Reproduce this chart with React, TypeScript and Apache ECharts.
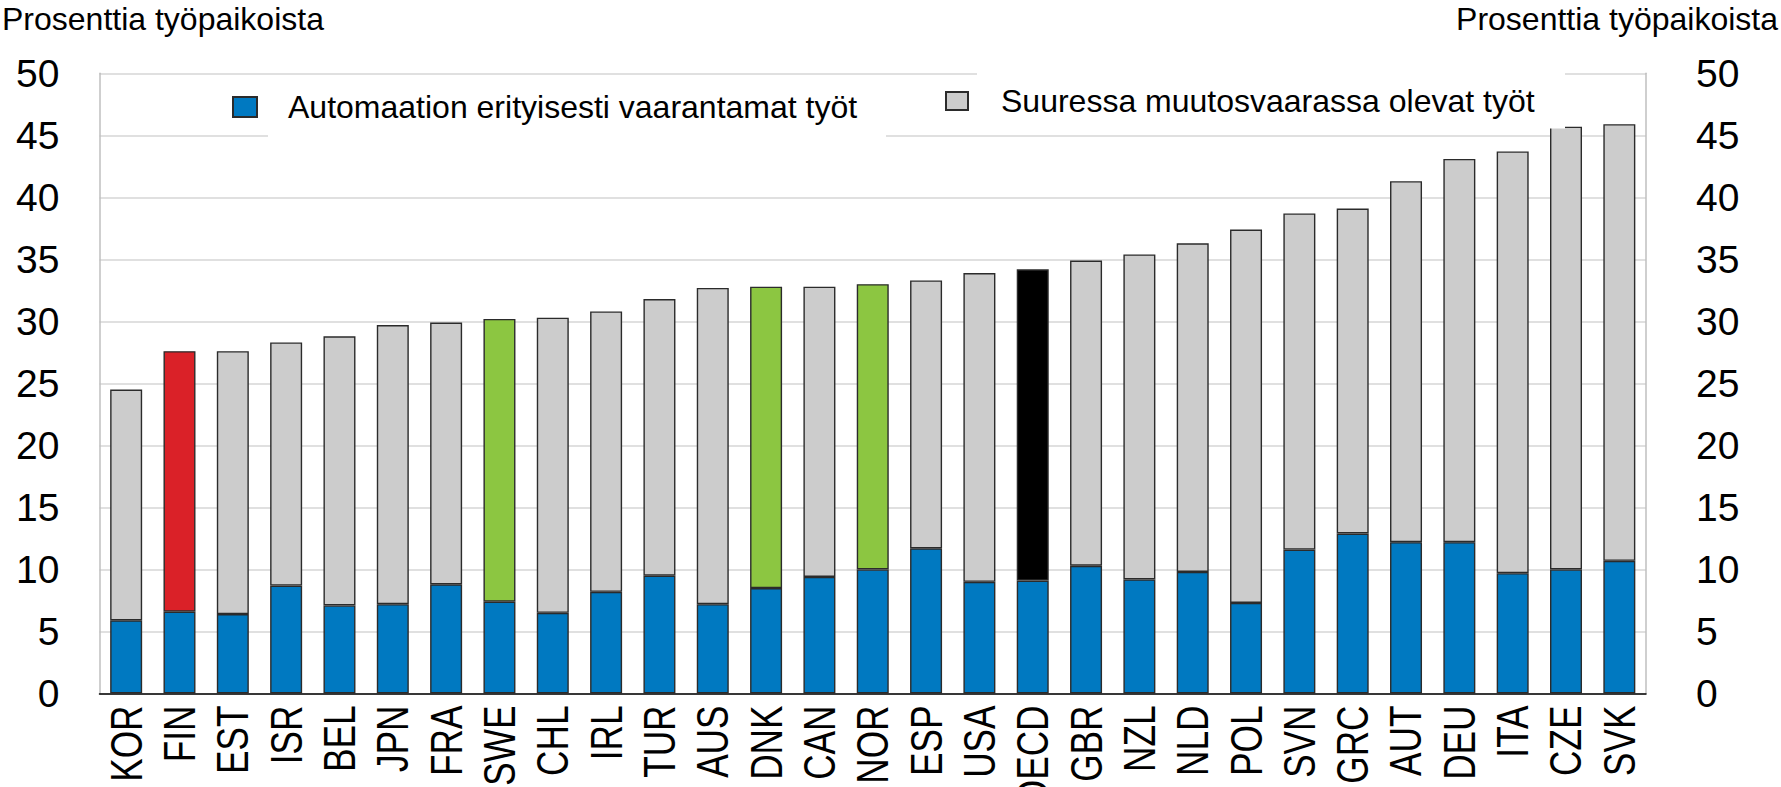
import React, { useEffect, useRef } from "react";
import * as echarts from "echarts";

const categories = ["KOR","FIN","EST","ISR","BEL","JPN","FRA","SWE","CHL","IRL","TUR","AUS","DNK","CAN","NOR","ESP","USA","OECD","GBR","NZL","NLD","POL","SVN","GRC","AUT","DEU","ITA","CZE","SVK"];
const automationRisk = [5.9,6.6,6.4,8.7,7.1,7.2,8.8,7.4,6.5,8.2,9.5,7.2,8.5,9.4,10.0,11.7,9.0,9.1,10.3,9.2,9.8,7.3,11.6,12.9,12.2,12.2,9.7,10.0,10.7];
const totalRisk = [24.5,27.6,27.6,28.3,28.8,29.7,29.9,30.2,30.3,30.8,31.8,32.7,32.8,32.8,33.0,33.3,33.9,34.2,34.9,35.4,36.3,37.4,38.7,39.1,41.3,43.1,43.7,45.7,45.9];
const yTicks = { min: 0, max: 50, interval: 5 };
const highlightColors: Record<string, string> = { FIN: "#DA2128", SWE: "#8CC641", DNK: "#8CC641", NOR: "#8CC641", OECD: "#000000" };

const seriesNames = ["Automaation erityisesti vaarantamat työt", "Suuressa muutosvaarassa olevat työt"];
const axisTitle = "Prosenttia työpaikoista";

const FONT = "'Liberation Sans', Arial, sans-serif";
const BLUE = "#0079C1";
const GREY = "#CCCCCC";
const BORDER = "#2b2b2b";

export default function App() {
  const ref = useRef<HTMLDivElement>(null);
  useEffect(() => {
    document.body.style.margin = "0";
    if (!ref.current) return;
    const chart = echarts.init(ref.current, null, { renderer: "svg" });
    const changeData = totalRisk.map((t, i) => {
      const v = Math.round((t - automationRisk[i]) * 100) / 100;
      const c = highlightColors[categories[i]];
      return c ? { value: v, itemStyle: { color: c } } : v;
    });
    const textBase = { fontFamily: FONT, color: "#000" };
    const boxes = [
      { type: "rect", id: "box1", z: 3, shape: { x: 268, y: 82, width: 618, height: 60 }, style: { fill: "#fff" } },
      { type: "rect", id: "box2", z: 3, shape: { x: 977, y: 58, width: 588, height: 70.5 }, style: { fill: "#fff" } },
    ];
    chart.setOption({
      animation: false,
      textStyle: { fontFamily: FONT },
      title: [
        { text: axisTitle, left: 2, top: 3, padding: 0, textStyle: { ...textBase, fontSize: 32, fontWeight: "normal" } },
        { text: axisTitle, right: 3, top: 3, padding: 0, textStyle: { ...textBase, fontSize: 32, fontWeight: "normal" } },
      ],
      grid: { left: 99.5, right: 135, top: 73.3, bottom: 93.5, outerBoundsMode: "none", containLabel: false },
      legend: [
        {
          data: [{ name: seriesNames[0], icon: "rect" }], left: 232, top: 90, padding: 0, itemWidth: 24, itemHeight: 20,
          selectedMode: false,
          textStyle: { ...textBase, fontSize: 32, lineHeight: 34, padding: [0, 0, 0, 26] },
        },
        {
          data: [{ name: seriesNames[1], icon: "rect" }], left: 945, top: 84, padding: 0, itemWidth: 22, itemHeight: 18,
          selectedMode: false,
          textStyle: { ...textBase, fontSize: 32, lineHeight: 34, padding: [0, 0, 0, 28] },
        },
      ],
      graphic: boxes,
      xAxis: {
        type: "category",
        data: categories,
        axisLine: { lineStyle: { color: "#000", width: 1.5 } },
        axisTick: { inside: true, length: 10, lineStyle: { color: "#000", width: 1.5 } },
        axisLabel: { show: false },
      },
      yAxis: [
        {
          type: "value", position: "left", ...yTicks,
          axisLine: { show: true, lineStyle: { color: "#bfbfbf", width: 1.5 } },
          axisTick: { show: false },
          splitLine: { lineStyle: { color: "#d6d6d6", width: 1.5 } },
          axisLabel: { ...textBase, fontSize: 39, margin: 40 },
        },
        {
          type: "value", position: "right", ...yTicks,
          axisLine: { show: true, lineStyle: { color: "#bfbfbf", width: 1.5 } },
          axisTick: { show: false },
          splitLine: { show: false },
          axisLabel: { ...textBase, fontSize: 39, margin: 50 },
        },
      ],
      series: [
        {
          name: seriesNames[0], type: "bar", stack: "total", barWidth: 32,
          itemStyle: { color: BLUE, borderColor: BORDER, borderWidth: 1.4 },
          data: automationRisk,
        },
        {
          name: seriesNames[1], type: "bar", stack: "total", barWidth: 32,
          itemStyle: { color: GREY, borderColor: BORDER, borderWidth: 1.4 },
          data: changeData,
        },
      ],
    });
    // Category labels: condensed, rotated text placed at the axis' own pixel positions
    const y0 = chart.convertToPixel({ yAxisIndex: 0 }, 0) as number;
    const labels = categories.map((c, i) => {
      const px = chart.convertToPixel({ xAxisIndex: 0 }, c) as number;
      return {
        type: "text", id: "lab" + i, x: px, y: y0 + 12, rotation: Math.PI / 2, scaleX: 0.8, z: 5,
        style: { text: c, fontFamily: FONT, fontSize: 44, fill: "#000", align: "right", verticalAlign: "middle" },
      };
    });
    chart.setOption({ graphic: [...boxes, ...labels] });
    return () => chart.dispose();
  }, []);
  return <div ref={ref} style={{ width: 1781, height: 787 }} />;
}
